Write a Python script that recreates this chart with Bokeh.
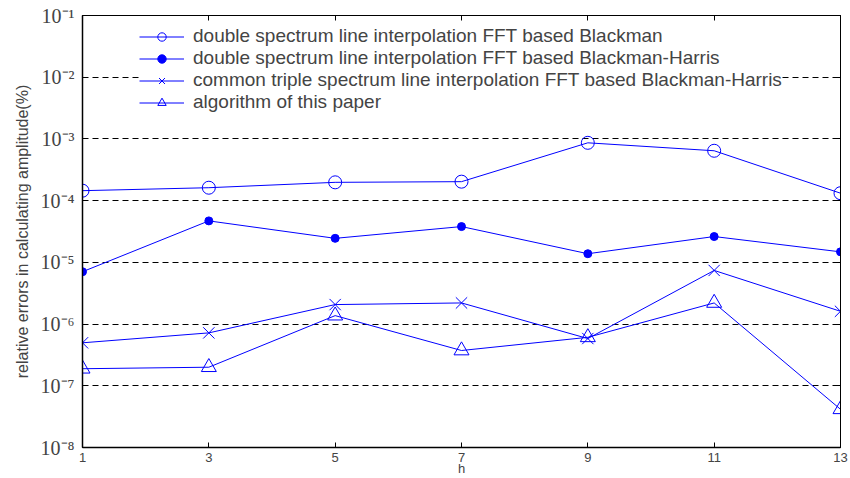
from bokeh.plotting import figure
from bokeh.models import (LinearAxis, LogAxis, FixedTicker, CustomJSTickFormatter,
                          Legend, LegendItem, Range1d)
from bokeh.embed import file_html
from bokeh.resources import INLINE

h = [1, 3, 5, 7, 9, 11, 13]
blackman_double = [1.45e-4, 1.62e-4, 1.98e-4, 2.03e-4, 8.65e-4, 6.43e-4, 1.32e-4]
bh_double = [7.05e-6, 4.7e-5, 2.45e-5, 3.8e-5, 1.38e-5, 2.62e-5, 1.48e-5]
bh_triple = [4.97e-7, 7.2e-7, 2.07e-6, 2.2e-6, 5.83e-7, 7.4e-6, 1.61e-6]
this_paper = [1.89e-7, 2.0e-7, 1.37e-6, 3.73e-7, 6.1e-7, 2.2e-6, 4.16e-8]

names = ["double spectrum line interpolation FFT based Blackman",
         "double spectrum line interpolation FFT based Blackman-Harris",
         "common triple spectrum line interpolation FFT based Blackman-Harris",
         "algorithm of this paper"]
x_ticks = [1, 3, 5, 7, 9, 11, 13]
y_ticks = [1e-8, 1e-7, 1e-6, 1e-5, 1e-4, 1e-3, 1e-2, 1e-1]

BLUE = "#0000ff"

p = figure(width=850, height=478, y_axis_type="log", output_backend="svg",
           toolbar_location=None, x_range=Range1d(1, 13), y_range=Range1d(1e-8, 1e-1),
           min_border_left=82, min_border_right=10, min_border_top=15, min_border_bottom=30)

p.background_fill_color = "white"
p.border_fill_color = "white"
p.outline_line_color = "black"
p.outline_line_width = 1

# grids
p.xgrid.grid_line_color = None
p.ygrid.ticker = FixedTicker(ticks=y_ticks)
p.ygrid.grid_line_color = "black"
p.ygrid.grid_line_dash = "6 4"
p.ygrid.grid_line_width = 1

sup = CustomJSTickFormatter(code="""
const s = {'-':'\u207b','0':'\u2070','1':'\u00b9','2':'\u00b2','3':'\u00b3','4':'\u2074','5':'\u2075','6':'\u2076','7':'\u2077','8':'\u2078','9':'\u2079'};
const e = Math.round(Math.log10(tick));
return '10' + String(e).split('').map(c => s[c]).join('');
""")
blank = CustomJSTickFormatter(code="return '';")

# left axis
ya = p.yaxis[0]
ya.ticker = FixedTicker(ticks=y_ticks)
ya.formatter = sup
ya.major_label_text_font = "Liberation Serif"
ya.major_label_text_font_size = "20px"
ya.major_label_standoff = 8
ya.major_tick_in = 5
ya.major_tick_out = 0
ya.minor_tick_line_color = None
ya.axis_line_color = "black"
ya.axis_line_width = 1.5
ya.axis_label = "relative errors in calculating amplitude(%)"
ya.axis_label_text_font = "Liberation Sans"
ya.axis_label_text_font_style = "normal"
ya.axis_label_text_font_size = "16px"
ya.axis_label_standoff = 7

# bottom axis
xa = p.xaxis[0]
xa.ticker = FixedTicker(ticks=x_ticks)
xa.major_label_text_font = "Liberation Sans"
xa.major_label_text_font_size = "13px"
xa.major_label_standoff = 5
xa.major_tick_in = 5
xa.major_tick_out = 0
xa.minor_tick_line_color = None
xa.axis_line_color = "black"
xa.axis_line_width = 1.5
xa.axis_label = "h"
xa.axis_label_text_font = "Liberation Sans"
xa.axis_label_text_font_style = "normal"
xa.axis_label_text_font_size = "13px"
xa.axis_label_standoff = -4

# top and right axes (ticks only)
top = LinearAxis(ticker=FixedTicker(ticks=x_ticks), formatter=blank, major_tick_in=5,
                 major_tick_out=0, minor_tick_line_color=None, major_label_standoff=0,
                 major_label_text_font_size="6px", major_label_text_color=None,
                 axis_line_color="black")
p.add_layout(top, "above")
right = LogAxis(ticker=FixedTicker(ticks=y_ticks), formatter=blank, major_tick_in=5,
                major_tick_out=0, minor_tick_line_color=None, major_label_standoff=0,
                major_label_text_font_size="6px", major_label_text_color=None,
                axis_line_color="black")
p.add_layout(right, "right")

series = [blackman_double, bh_double, bh_triple, this_paper]
items = []
for i, ys in enumerate(series):
    ln = p.line(h, ys, line_color=BLUE, line_width=1)
    if i == 0:
        mk = p.scatter(h, ys, marker="circle", size=13, line_color=BLUE, fill_alpha=0, line_width=1)
    elif i == 1:
        mk = p.scatter(h, ys, marker="circle", size=8, line_color=BLUE, fill_color=BLUE, line_width=1)
    elif i == 2:
        mk = p.scatter(h, ys, marker="x", size=16, line_color=BLUE, line_width=1)
    else:
        mk = p.scatter(h, ys, marker="triangle", size=15, line_color=BLUE, fill_alpha=0, line_width=1)
    items.append(LegendItem(label=names[i], renderers=[ln, mk]))

legend = Legend(items=items, location=(57, 334), border_line_color=None,
                background_fill_color="white", background_fill_alpha=1,
                label_text_font="Liberation Sans", label_text_font_size="19px",
                label_height=21, glyph_height=21, glyph_width=45, label_standoff=9,
                spacing=0, padding=5, margin=0)
p.add_layout(legend)

open("out.html", "w").write(file_html(p, INLINE))
